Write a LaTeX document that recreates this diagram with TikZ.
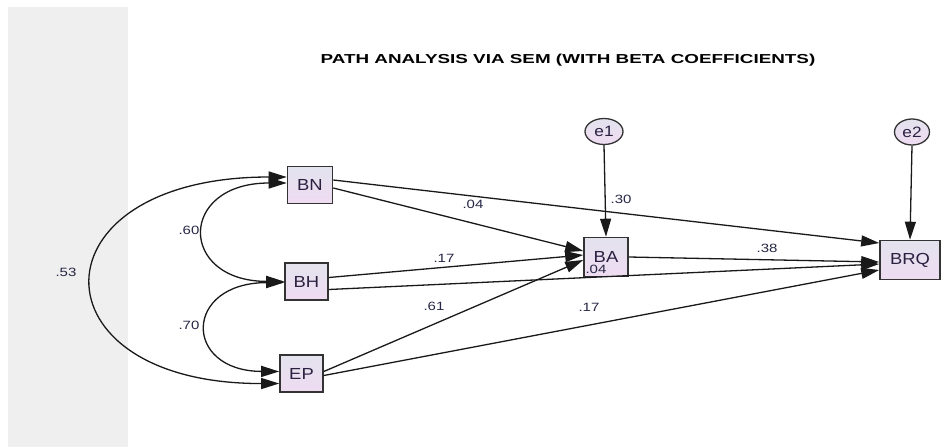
\documentclass[tikz,border=0pt]{standalone}
\usepackage{fontspec}
\setmainfont{Liberation Sans}
\newfontfamily\labfont[FakeStretch=1.25]{Liberation Sans}
\newfontfamily\boxfont[FakeStretch=1.15]{Liberation Sans}
\newfontfamily\titlefont[FakeStretch=1.45]{Liberation Sans}
\usetikzlibrary{arrows.meta,shapes.geometric}
\definecolor{panelgray}{HTML}{EFEFEF}
\definecolor{boxtop}{HTML}{E3E3EE}
\definecolor{boxbot}{HTML}{EFDBF1}
\definecolor{edge}{HTML}{333333}
\definecolor{coef}{HTML}{262645}
\definecolor{vartext}{HTML}{2A2040}
\tikzset{
  obs/.style={draw=edge, line width=1.6pt, top color=boxtop, bottom color=boxbot,
    inner sep=0pt, font=\boxfont\fontsize{16}{16}\selectfont, text=vartext},
  err/.style={ellipse, draw=edge, line width=1.3pt, top color=boxtop, bottom color=boxbot,
    inner sep=0pt, font=\boxfont\fontsize{15}{15}\selectfont, text=vartext},
  path/.style={line width=1.3pt, draw=black!90, -{Triangle[length=18pt,width=11pt]}},
  cov/.style={line width=1.3pt, draw=black!90,
    {Triangle[length=18pt,width=11pt]}-{Triangle[length=18pt,width=11pt]}},
  coeflab/.style={font=\labfont\fontsize{12}{12}\selectfont, text=coef, inner sep=0pt}
}
\begin{document}
\begin{tikzpicture}[x=1pt,y=-1pt]
\useasboundingbox (0,0) rectangle (943,447);
% grey side panel
\fill[panelgray] (8,7) rectangle (128,447);

% title
\node[font=\titlefont\bfseries\fontsize{13}{14}\selectfont] (title) at (568,60)
  {PATH ANALYSIS VIA SEM (WITH BETA COEFFICIENTS)};

% observed variables
\node[obs, minimum width=45pt, minimum height=37pt] (BN) at (310,185) {BN};
\node[obs, minimum width=43pt, minimum height=37pt] (BH) at (306.5,281.5) {BH};
\node[obs, minimum width=43pt, minimum height=37pt] (EP) at (301.5,373.5) {EP};
\node[obs, minimum width=44pt, minimum height=39pt] (BA) at (606,257) {BA};
\node[obs, minimum width=60pt, minimum height=39pt] (BRQ) at (910,260) {BRQ};

% error terms
\node[err, minimum width=38pt, minimum height=26pt] (e1) at (604,131.5) {e1};
\node[err, minimum width=35pt, minimum height=26pt] (e2) at (912,132) {e2};

% covariances
\draw[cov] ([yshift=2pt]BN.west) .. controls (178,183) and (178,281) .. (BH.west);
\draw[cov] ([yshift=-1pt]BH.west) .. controls (183,283) and (183,371) .. ([yshift=2pt]EP.west);
\draw[cov] ([yshift=8pt]BN.west) .. controls (30,177) and (30,384) .. ([yshift=-10pt]EP.west);

% regression paths
\draw[path] ([yshift=-3pt]BN.east) -- ([yshift=6pt]BA.west);
\draw[path] ([yshift=5pt]BN.east) -- ([yshift=17pt]BRQ.west);
\draw[path] ([yshift=4pt]BH.east) -- ([yshift=2pt]BA.west);
\draw[path] ([yshift=-8pt]BH.east) -- ([yshift=-4pt]BRQ.west);
\draw[path] ([yshift=2pt]EP.east) -- ([yshift=-3pt]BA.west);
\draw[path] ([yshift=-2pt]EP.east) -- ([yshift=-10pt]BRQ.west);
\draw[path] (BA.east) -- ([yshift=-2pt]BRQ.west);
\draw[path] (e1.south) -- (BA.north);
\draw[path] (e2.south) -- (BRQ.north);

% coefficients
\node[coeflab] (c53) at (66,272) {.53};
\node[coeflab] (c60) at (189,230) {.60};
\node[coeflab] (c70) at (189,325) {.70};
\node[coeflab] (c04a) at (473,204) {.04};
\node[coeflab] (c30) at (621,199) {.30};
\node[coeflab] (c17a) at (444,258) {.17};
\node[coeflab] (c38) at (767,248) {.38};
\node[coeflab] (c04b) at (596,269) {.04};
\node[coeflab] (c61) at (434,306) {.61};
\node[coeflab] (c17b) at (589,307) {.17};
\end{tikzpicture}
\end{document}
